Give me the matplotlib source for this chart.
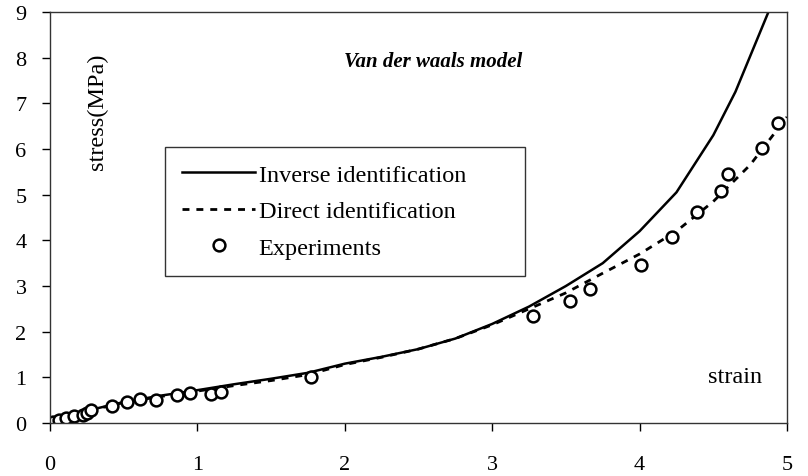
import numpy as np
import matplotlib.pyplot as plt

plt.rcParams['font.family'] = ['Liberation Serif', 'DejaVu Serif']

# experimental points (strain, stress in MPa)
exp_strain = [0.02, 0.06, 0.11, 0.16, 0.22, 0.25, 0.28, 0.42, 0.52, 0.61, 0.72,
              0.86, 0.95, 1.09, 1.16, 1.77, 3.28, 3.53, 3.66, 4.01, 4.22, 4.39,
              4.55, 4.60, 4.83, 4.94]
exp_stress = [0.02, 0.07, 0.10, 0.15, 0.18, 0.23, 0.29, 0.37, 0.45, 0.53, 0.51,
              0.62, 0.66, 0.64, 0.69, 1.00, 2.35, 2.68, 2.94, 3.45, 4.08, 4.62,
              5.08, 5.46, 6.01, 6.56]

# inverse identification
inv_strain = [0, 0.25, 0.5, 0.75, 1.0, 1.25, 1.5, 1.75, 2.0, 2.25, 2.5, 2.75,
              3.0, 3.25, 3.5, 3.75, 4.0, 4.25, 4.5, 4.65, 4.9]
inv_stress = [0, 0.27, 0.46, 0.6, 0.72, 0.85, 0.97, 1.1, 1.3, 1.45, 1.62, 1.85,
              2.17, 2.55, 3.0, 3.5, 4.2, 5.05, 6.3, 7.25, 9.2]

# direct identification
dir_strain = [0, 0.25, 0.5, 0.75, 1.0, 1.25, 1.5, 1.75, 2.0, 2.25, 2.5, 2.75,
              3.0, 3.25, 3.5, 3.75, 4.0, 4.25, 4.5, 4.75, 5.0]
dir_stress = [0, 0.26, 0.45, 0.58, 0.7, 0.82, 0.93, 1.06, 1.28, 1.44, 1.62, 1.85,
              2.15, 2.5, 2.85, 3.28, 3.7, 4.2, 4.85, 5.65, 6.7]

fig = plt.figure(figsize=(8.08, 4.77), dpi=100)
ax = fig.add_axes([0.062, 0.111, 0.912, 0.862])

ax.plot(inv_strain, inv_stress, color='black', lw=1.8, label='Inverse identification')
ax.plot(dir_strain, dir_stress, color='black', lw=2, linestyle=(0, (2.5, 2.5)),
        label='Direct identification')
ax.plot(exp_strain, exp_stress, 'o', mfc='white', mec='black', mew=1.8, ms=8.5,
        label='Experiments')

ax.set_xlim(0, 5)
ax.set_ylim(0, 9)
ax.set_xticks(range(0, 6))
ax.set_yticks(range(0, 10))
ax.tick_params(direction='out', length=6, labelsize=16, width=1)
ax.tick_params(axis='y', pad=11)
ax.tick_params(axis='x', pad=17)
for s in ax.spines.values():
    s.set_linewidth(1)
    s.set_color('#333333')

ax.text(0.52, 0.88, 'Van der waals model', transform=ax.transAxes,
        ha='center', va='center', fontsize=15, fontweight='bold', style='italic')
ax.text(0.064, 0.76, 'stress(MPa)', transform=ax.transAxes, rotation=90,
        ha='center', va='center', fontsize=17.5)
ax.text(0.93, 0.114, 'strain', transform=ax.transAxes,
        ha='center', va='center', fontsize=17.5)

leg = ax.legend(loc='lower left', bbox_to_anchor=(0.156, 0.358, 0.488, 0.316),
                mode='expand', borderaxespad=0, fontsize=17.5, frameon=True,
                fancybox=False, edgecolor='black', handlelength=3.0,
                labelspacing=0.6, borderpad=0.7, handletextpad=0.15)
leg.get_frame().set_linewidth(1)

fig.savefig('out.png', dpi=100)
